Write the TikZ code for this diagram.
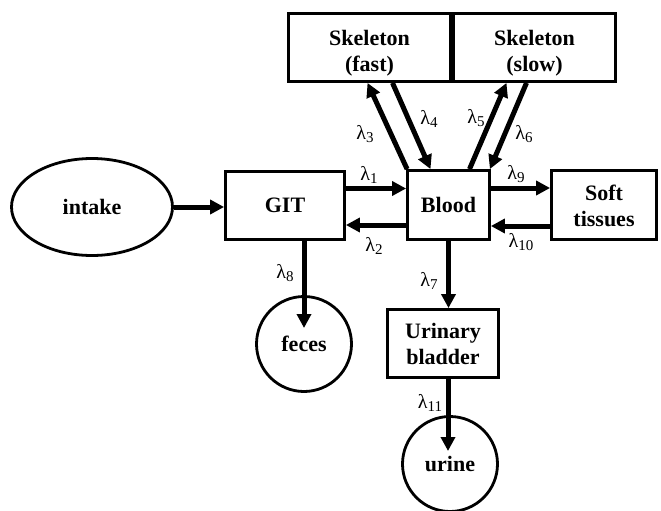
\documentclass[tikz,border=0pt]{standalone}
\usepackage{fontspec}
\setmainfont{Liberation Serif}
\usetikzlibrary{positioning,arrows.meta,shapes.geometric}

\newcommand{\lam}[1]{\fontsize{20}{20}\selectfont λ\raisebox{-3.5pt}{\fontsize{15}{15}\selectfont #1}}
\newcommand{\lowtext}[2]{\raisebox{#1}[0pt][0pt]{\begin{tabular}{@{}c@{}}#2\end{tabular}}}

\begin{document}
\begin{tikzpicture}[
    x=1pt, y=-1pt,
    box/.style={
        rectangle, draw,
        align=center, inner sep=2pt,
        line width=2.8pt, font=\fontsize{22}{26}\selectfont\bfseries
    },
    pool/.style={
        circle, draw, minimum size=95pt, inner sep=0pt,
        line width=2.8pt, font=\fontsize{22}{26}\selectfont\bfseries
    },
    flow/.style={-{Triangle[length=14pt,width=14pt]}, line width=5pt},
    rate/.style={inner sep=1pt}
]
  \useasboundingbox (0,0) rectangle (661,511);

  % Compartments
  \node[box, minimum width=162pt, minimum height=68pt] (fast) at (369.5,47.5) {\lowtext{-11pt}{Skeleton\\(fast)}};
  \node[box, minimum width=162pt, minimum height=68pt] (slow) at (534.5,47.5) {\lowtext{-11pt}{Skeleton\\(slow)}};

  \node[ellipse, draw, line width=2.8pt, minimum width=161pt, minimum height=97pt,
        font=\fontsize{22}{26}\selectfont\bfseries] (intake) at (92,207) {intake};
  \node[box, minimum width=119pt, minimum height=68pt] (git) at (285,205.5) {GIT};
  \node[box, minimum width=82pt, minimum height=69pt] (blood) at (448.5,205) {Blood};
  \node[box, minimum width=105pt, minimum height=69pt] (soft) at (604,205) {\lowtext{-8pt}{Soft\\tissues}};
  \node[box, minimum width=111pt, minimum height=68pt] (bladder) at (443,343.5) {Urinary\\bladder};

  \node[pool] (feces) at (304,344) {feces};
  \node[pool] (urine) at (450,464) {\raisebox{-4pt}{urine}};

  % Flows
  \draw[flow] (intake.east) -- (intake.east -| git.west);
  \draw[flow] ([yshift=17pt]git.east) -- ([yshift=17pt]git.east -| blood.west);
  \draw[flow] ([yshift=-20pt]blood.west) -- ([yshift=-20pt]blood.west -| git.east);
  \draw[flow] ([yshift=17pt]blood.east) -- ([yshift=17pt]blood.east -| soft.west);
  \draw[flow] ([yshift=-21pt]soft.west) -- ([yshift=-21pt]soft.west -| blood.east);

  \draw[flow] ([xshift=1pt]blood.north west) -- ([xshift=-2pt]fast.south);
  \draw[flow] ([xshift=23pt]fast.south) -- ([xshift=-18pt]blood.north);
  \draw[flow] ([xshift=21pt]blood.north) -- ([xshift=-28pt]slow.south);
  \draw[flow] ([xshift=-8pt]slow.south) -- ([xshift=-1pt]blood.north east);

  \draw[flow] ([xshift=19pt]git.south) -- ([yshift=16pt]feces.center);
  \draw[flow] (blood.south) -- (blood.south |- bladder.north);
  \draw[flow] ([xshift=5pt]bladder.south) -- ([xshift=-2pt,yshift=13pt]urine.center);

  % Rate labels
  \node[rate] (l1) at (369,175) {\lam{1}};
  \node[rate] (l2) at (374,246) {\lam{2}};
  \node[rate] (l3) at (365,134) {\lam{3}};
  \node[rate] (l4) at (429,119) {\lam{4}};
  \node[rate] (l5) at (476,118) {\lam{5}};
  \node[rate] (l6) at (524,134) {\lam{6}};
  \node[rate] (l7) at (429,281) {\lam{7}};
  \node[rate] (l8) at (285,273) {\lam{8}};
  \node[rate] (l9) at (516,174) {\lam{9}};
  \node[rate] (l10) at (521,242) {\lam{10}};
  \node[rate] (l11) at (430,403) {\lam{11}};

\end{tikzpicture}
\end{document}
